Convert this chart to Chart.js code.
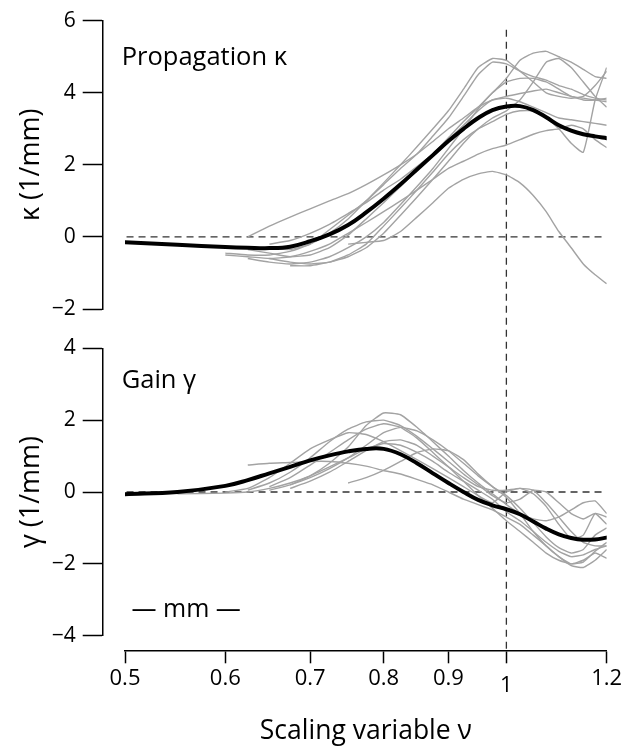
<!DOCTYPE html>
<html>
<head>
<meta charset="utf-8">
<script src="https://cdn.jsdelivr.net/npm/chart.js@4/dist/chart.umd.min.js"></script>
<style>
    html, body { margin: 0; padding: 0; background: #fff; }
    #wrap { width: 635px; height: 749px; }
</style>
</head>
<body>
<div id="wrap"><canvas id="nuChart" width="635" height="749"></canvas></div>
<script>
// Scaling variable grid (shared by all series)
const nu = [0.5, 0.55, 0.6, 0.625, 0.65, 0.675, 0.7, 0.725, 0.75, 0.775, 0.8, 0.825, 0.85, 0.875,
            0.9, 0.925, 0.95, 0.975, 1.0, 1.025, 1.05, 1.075, 1.1, 1.125, 1.15, 1.175, 1.2];
const nuTicks = [0.5, 0.6, 0.7, 0.8, 0.9, 1, 1.2];

// Propagation kappa (1/mm): mean and individual runs
const kappaMean = [-0.15, -0.22, -0.28, -0.3, -0.31, -0.27, -0.12, 0.07, 0.33, 0.68, 1.06, 1.46, 1.87, 2.27,
                   2.66, 3.0, 3.3, 3.52, 3.62, 3.63, 3.52, 3.32, 3.1, 2.95, 2.85, 2.79, 2.74];
const kappa1 = [null, null, null, 0.0, 0.3, 0.55, 0.78, 1.0, 1.2, 1.45, 1.72, 2.0, 2.3, 2.65,
                3.0, 3.3, 3.6, 3.8, 3.9, 3.98, 4.05, 4.1, 4.0, 3.9, 3.8, 3.8, 3.85];
const kappa2 = [null, null, null, null, null, null, null, null, -0.2, -0.15, -0.1, 0.15, 0.55, 0.95,
                1.35, 1.6, 1.75, 1.82, 1.72, 1.5, 1.15, 0.7, 0.15, -0.3, -0.75, -1.05, -1.3];
const kappa3 = [null, null, -0.45, -0.5, -0.5, -0.4, -0.2, 0.2, 0.6, 1.0, 1.45, 1.9, 2.3, 2.8,
                3.3, 3.9, 4.5, 4.85, 4.8, 4.6, 4.45, 4.35, 4.2, 4.1, 3.95, 3.85, 3.8];
const kappa4 = [null, null, null, -0.35, -0.45, -0.55, -0.5, -0.3, 0.05, 0.5, 0.95, 1.4, 1.85, 2.3,
                2.75, 3.2, 3.6, 4.0, 4.4, 4.9, 5.1, 5.15, 5.0, 4.85, 4.65, 4.45, 4.4];
const kappa5 = [null, null, null, null, -0.6, -0.7, -0.75, -0.7, -0.55, -0.3, 0.1, 0.6, 1.1, 1.6,
                2.1, 2.6, 3.0, 3.3, 3.5, 3.8, 4.3, 4.85, 4.95, 4.7, 4.3, 3.9, 3.6];
const kappa6 = [null, null, null, null, null, -0.8, -0.8, -0.7, -0.5, -0.2, 0.3, 0.8, 1.3, 1.8,
                2.3, 2.7, 3.0, 3.2, 3.4, 3.5, 3.5, 3.3, 3.0, 2.6, 2.35, 3.8, 4.7];
const kappa7 = [null, null, null, null, -0.3, -0.35, -0.2, 0.1, 0.5, 1.0, 1.5, 2.0, 2.5, 3.0,
                3.5, 4.1, 4.7, 4.95, 4.9, 4.6, 4.3, 4.0, 3.9, 3.85, 3.9, 4.2, 4.6];
const kappa8 = [null, null, -0.5, -0.55, -0.6, -0.55, -0.4, -0.2, 0.1, 0.4, 0.7, 1.0, 1.3, 1.6,
                1.9, 2.1, 2.3, 2.45, 2.55, 2.7, 2.85, 2.95, 3.0, 3.1, 3.0, 2.7, 2.48];
const kappa9 = [null, null, null, null, -0.2, -0.1, 0.1, 0.35, 0.65, 0.95, 1.3, 1.6, 1.95, 2.3,
                2.7, 3.1, 3.5, 3.8, 3.85, 3.75, 3.6, 3.45, 3.3, 3.25, 3.2, 3.15, 3.1];
const kappa10 = [null, null, null, -0.6, -0.7, -0.75, -0.7, -0.55, -0.3, 0.0, 0.4, 0.9, 1.4, 1.9,
                 2.45, 3.0, 3.55, 4.0, 4.3, 4.4, 4.4, 4.3, 4.1, 3.9, 3.85, 3.8, 3.75];

// Gain gamma (1/mm): mean and individual runs
const gammaMean = [-0.06, 0.0, 0.17, 0.33, 0.52, 0.7, 0.88, 1.02, 1.13, 1.2, 1.2, 1.05, 0.8, 0.52,
                   0.25, 0.0, -0.22, -0.37, -0.48, -0.62, -0.82, -1.02, -1.18, -1.28, -1.33, -1.32, -1.27];
const gamma1 = [null, -0.05, -0.03, 0.0, 0.1, 0.25, 0.45, 0.7, 0.95, 1.2, 1.35, 1.3, 1.1, 0.85,
                0.55, 0.3, 0.05, -0.2, -0.55, -0.8, -1.1, -1.4, -1.65, -1.8, -1.75, -1.6, -1.5];
const gamma2 = [null, null, null, 0.75, 0.8, 0.82, 0.85, 0.85, 0.8, 0.72, 0.6, 0.5, 0.35, 0.2,
                0.0, -0.2, -0.35, -0.5, -0.7, -0.9, -1.2, -1.5, -1.8, -2.05, -2.1, -1.9, -1.6];
const gamma3 = [null, null, null, null, null, 0.2, 0.45, 0.8, 1.25, 1.85, 2.2, 2.15, 1.8, 1.4,
                1.0, 0.6, 0.25, -0.05, -0.35, -0.6, -0.75, -0.8, -0.7, -0.5, -0.3, -0.25, -0.6];
const gamma4 = [null, null, null, 0.05, 0.25, 0.55, 0.95, 1.4, 1.75, 1.95, 2.0, 1.85, 1.55, 1.2,
                0.85, 0.5, 0.2, -0.1, -0.3, -0.2, 0.05, 0.0, -0.3, -0.6, -0.75, -0.6, -0.9];
const gamma5 = [null, null, 0.0, 0.1, 0.4, 0.8, 1.2, 1.45, 1.65, 1.6, 1.4, 1.15, 0.9, 0.65,
                0.4, 0.15, -0.1, -0.3, 0.0, 0.1, 0.05, -0.3, -0.7, -1.1, -1.4, -1.5, -1.5];
const gamma6 = [null, null, null, null, null, null, null, null, 0.25, 0.4, 0.6, 0.85, 1.1, 1.2,
                1.15, 0.9, 0.5, 0.15, -0.15, -0.6, -1.1, -1.5, -1.8, -2.0, -1.95, -1.65, -1.4];
const gamma7 = [null, null, null, null, 0.05, 0.2, 0.4, 0.65, 0.95, 1.3, 1.65, 1.8, 1.7, 1.45,
                1.15, 0.8, 0.45, 0.15, -0.1, -0.45, -0.85, -1.25, -1.55, -1.7, -1.6, -1.2, -1.0];
const gamma8 = [null, null, null, null, null, 0.1, 0.3, 0.55, 0.85, 1.15, 1.4, 1.45, 1.3, 1.0,
                0.7, 0.4, 0.15, 0.05, 0.05, 0.1, -0.05, -0.4, -0.9, -1.3, -1.2, -0.6, -0.7];
const gamma9 = [null, null, null, null, 0.15, 0.4, 0.75, 1.1, 1.45, 1.75, 1.9, 1.8, 1.5, 1.1,
                0.7, 0.3, -0.1, -0.45, -0.8, -1.1, -1.4, -1.7, -1.9, -2.0, -1.9, -1.7, -1.85];

// Reference lines (data units)
const zeroLineNu = [0.48, 1.19];
const vLineNu = 1;
const vLineTop = 5.75;

const kappaRuns = [kappa1, kappa2, kappa3, kappa4, kappa5, kappa6, kappa7, kappa8, kappa9, kappa10];
const gammaRuns = [gamma1, gamma2, gamma3, gamma4, gamma5, gamma6, gamma7, gamma8, gamma9];

const FONT = '"Open Sans", "Noto Sans", sans-serif';
const AXIS_W = 102.3;   // room left of the plot for y ticks and titles
const AXIS_H = 98.3;    // room below the plot for the nu axis

function toPoints(values) {
    return nu.map((x, i) => ({ x: x, y: values[i] })).filter(p => p.y !== null && p.y !== undefined);
}

function runDataset(values, yAxisID) {
    return {
        data: toPoints(values),
        xAxisID: 'x',
        yAxisID: yAxisID,
        borderColor: '#a3a3a3',
        borderWidth: 1.4,
        pointRadius: 0,
        tension: 0.15,
        order: 1
    };
}

function meanDataset(values, yAxisID) {
    return {
        data: toPoints(values),
        xAxisID: 'x',
        yAxisID: yAxisID,
        borderColor: '#000',
        borderWidth: 4,
        pointRadius: 0,
        tension: 0.4,
        borderCapStyle: 'round',
        order: 0
    };
}

function zeroDataset(yAxisID) {
    return {
        data: zeroLineNu.map(x => ({ x: x, y: 0 })),
        xAxisID: 'x',
        yAxisID: yAxisID,
        borderColor: '#333',
        borderWidth: 1.3,
        borderDash: [7, 5],
        pointRadius: 0,
        order: 2
    };
}

const datasets = [
    meanDataset(kappaMean, 'yK'),
    meanDataset(gammaMean, 'yG'),
    ...kappaRuns.map(r => runDataset(r, 'yK')),
    ...gammaRuns.map(r => runDataset(r, 'yG')),
    zeroDataset('yK'),
    zeroDataset('yG')
];

// Vertical dashed line at nu = 1 and the panel annotations
const overlay = {
    id: 'overlay',
    beforeDatasetsDraw(chart) {
        const { ctx, chartArea, scales } = chart;
        const x1 = scales.x.getPixelForValue(vLineNu);
        ctx.save();
        ctx.strokeStyle = '#333';
        ctx.lineWidth = 1.3;
        ctx.setLineDash([7, 5]);
        ctx.beginPath();
        ctx.moveTo(x1, scales.yK.getPixelForValue(vLineTop));
        ctx.lineTo(x1, chartArea.bottom);
        ctx.stroke();
        ctx.restore();
    },
    afterDatasetsDraw(chart) {
        const { ctx, scales } = chart;
        ctx.save();
        ctx.fillStyle = '#000';
        ctx.font = '25.5px ' + FONT;
        ctx.textBaseline = 'alphabetic';
        ctx.fillText('Propagation \u03BA', scales.x.getPixelForValue(0.497), scales.yK.getPixelForValue(4.77));
        ctx.fillText('Gain \u03B3', scales.x.getPixelForValue(0.497), scales.yG.getPixelForValue(2.9));
        ctx.font = '25px ' + FONT;
        ctx.fillText('\u2014 mm \u2014', scales.x.getPixelForValue(0.506), scales.yG.getPixelForValue(-3.48));
        ctx.restore();
    }
};

function yAxis(title, min, max, weight, stackWeight) {
    return {
        type: 'linear',
        position: 'left',
        stack: 'panels',
        stackWeight: stackWeight,
        weight: weight,
        min: min,
        max: max,
        afterFit: (scale) => { scale.width = AXIS_W; },
        ticks: {
            stepSize: 2,
            padding: 7,
            color: '#000',
            font: { family: FONT, size: 21 },
            callback: (v) => String(v).replace('-', '\u2212')
        },
        grid: {
            drawOnChartArea: false,
            tickLength: 19.6,
            tickWidth: 1.5,
            tickColor: '#000'
        },
        border: { color: '#000', width: 1.5 },
        title: {
            display: true,
            text: title,
            color: '#000',
            font: { family: FONT, size: 27 },
            padding: { top: 15, bottom: 0 }
        }
    };
}

function spacer(position, stack, weight, stackWeight) {
    return {
        type: 'linear',
        position: position,
        stack: stack,
        weight: weight,
        stackWeight: stackWeight,
        display: false,
        afterFit: (scale) => {
            if (position === 'left') scale.width = AXIS_W; else scale.height = AXIS_H;
        }
    };
}

new Chart(document.getElementById('nuChart'), {
    type: 'line',
    data: { datasets: datasets },
    options: {
        responsive: false,
        animation: false,
        layout: { padding: { left: 0, right: 28.3, top: 20.7, bottom: 0 } },
        plugins: { legend: { display: false }, tooltip: { enabled: false } },
        scales: {
            yK: yAxis('\u03BA (1/mm)', -2, 6, 4, 288.3),
            yGap: spacer('left', 'panels', 3, 39.3),
            yG: yAxis('\u03B3 (1/mm)', -4, 4, 2, 287.4),
            yPad: spacer('left', 'panels', 1, 15),
            xPad: spacer('bottom', 'nuAxis', 1, 22.7),
            x: {
                type: 'logarithmic',
                position: 'bottom',
                stack: 'nuAxis',
                stackWeight: 481.7,
                weight: 2,
                min: 0.5,
                max: 1.2,
                afterFit: (scale) => { scale.height = AXIS_H; },
                afterBuildTicks: (scale) => { scale.ticks = nuTicks.map(v => ({ value: v })); },
                ticks: {
                    autoSkip: false,
                    maxRotation: 0,
                    padding: 2,
                    color: '#000',
                    font: (ctx) => ({
                        family: FONT,
                        size: 22,
                        lineHeight: ctx.tick && ctx.tick.value === 1 ? 1.85 : 1.2
                    }),
                    callback: (v) => String(v)
                },
                grid: {
                    drawOnChartArea: false,
                    tickLength: 12.6,
                    tickWidth: 1.5,
                    tickColor: '#000'
                },
                border: { color: '#000', width: 1.5 },
                title: {
                    display: true,
                    text: 'Scaling variable \u03BD',
                    color: '#000',
                    font: { family: FONT, size: 26.5 },
                    padding: { top: 0, bottom: 2 }
                }
            }
        }
    },
    plugins: [overlay]
});
</script>
</body>
</html>
